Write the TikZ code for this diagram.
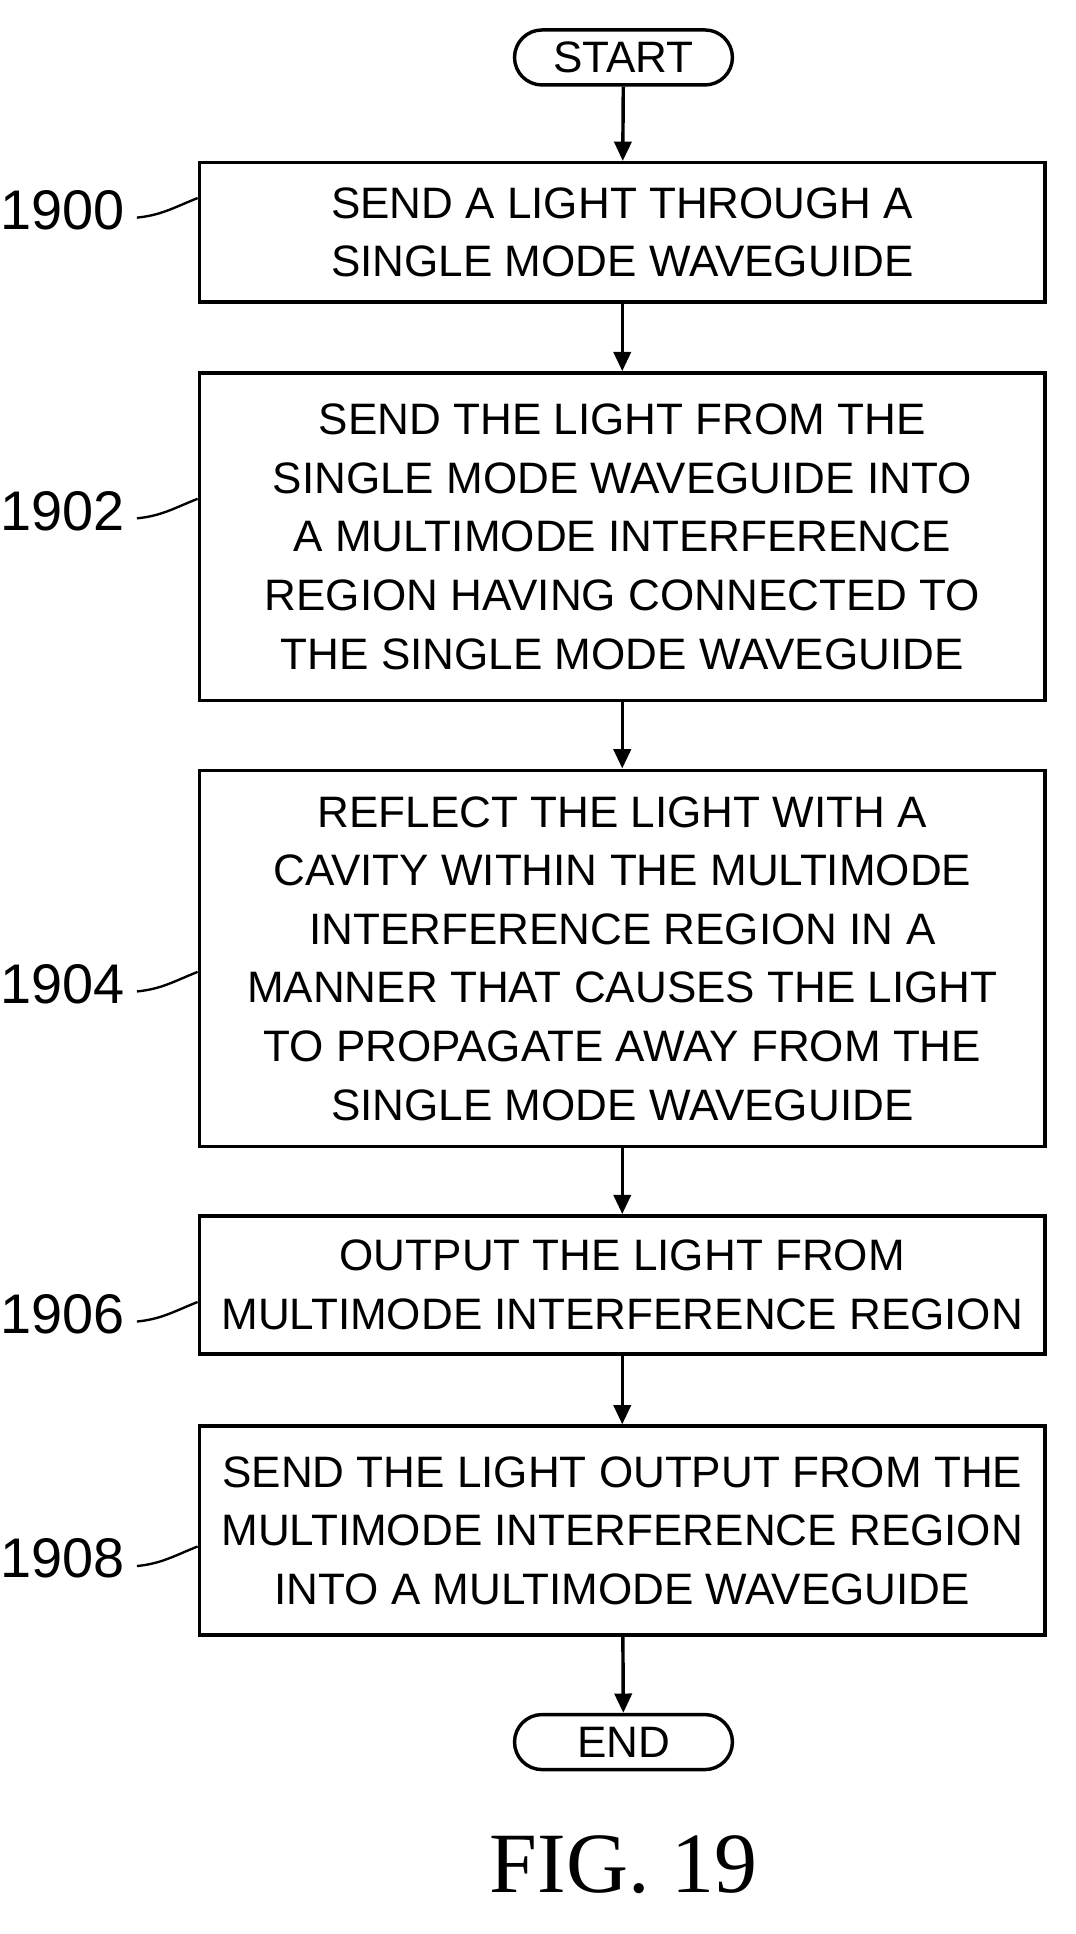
\documentclass[tikz,border=0pt]{standalone}
\usepackage{fontspec}
\setmainfont{Liberation Sans}
\newfontfamily\figfont{Liberation Serif}
\usetikzlibrary{arrows.meta,shapes.misc}
\begin{document}
\begin{tikzpicture}[x={(0.02cm,0)},y={(0,-0.02cm)},
    stepbox/.style={draw,line width=1.6pt,minimum width=13.84cm,align=center,
        font=\fontsize{20.5}{27.3}\selectfont,inner sep=0pt},
    term/.style={draw,line width=1.6pt,rounded rectangle,minimum width=3.8cm,
        minimum height=0.9cm,font=\fontsize{20.5}{24}\selectfont},
    flow/.style={line width=1.6pt,-{Triangle[length=9pt,width=8pt]}},
    tag/.style={font=\fontsize{26}{30}\selectfont,anchor=east},
    lead/.style={line width=1.1pt}]
    \useasboundingbox (0,0) rectangle (880,1582);
    % Terminals
    \node[term] (start) at (510,47) {START};
    \node[term] (end) at (510,1425) {END};
    % Steps
    \node[stepbox,minimum height=2.28cm] (s1900) at (509,190)
        {SEND A LIGHT THROUGH A\\SINGLE MODE WAVEGUIDE};
    \node[stepbox,minimum height=5.36cm] (s1902) at (509,439)
        {SEND THE LIGHT FROM THE\\SINGLE MODE WAVEGUIDE INTO\\A MULTIMODE INTERFERENCE\\REGION HAVING CONNECTED TO\\THE SINGLE MODE WAVEGUIDE};
    \node[stepbox,minimum height=6.16cm] (s1904) at (509,784)
        {REFLECT THE LIGHT WITH A\\CAVITY WITHIN THE MULTIMODE\\INTERFERENCE REGION IN A\\MANNER THAT CAUSES THE LIGHT\\TO PROPAGATE AWAY FROM THE\\SINGLE MODE WAVEGUIDE};
    \node[stepbox,minimum height=2.26cm] (s1906) at (509,1051)
        {OUTPUT THE LIGHT FROM\\MULTIMODE INTERFERENCE REGION};
    \node[stepbox,minimum height=3.42cm] (s1908) at (509,1252)
        {SEND THE LIGHT OUTPUT FROM THE\\MULTIMODE INTERFERENCE REGION\\INTO A MULTIMODE WAVEGUIDE};
    % Flow
    \draw[flow] (start) -- (s1900);
    \draw[flow] (s1900) -- (s1902);
    \draw[flow] (s1902) -- (s1904);
    \draw[flow] (s1904) -- (s1906);
    \draw[flow] (s1906) -- (s1908);
    \draw[flow] (s1908) -- (end);
    % Reference numbers
    \foreach \n/\y in {1900/172,1902/418,1904/805,1906/1075,1908/1275} {
        \node[tag] (l\n) at (108,\y) {\n};
        \draw[lead] (l\n.east) ++(4,6) coordinate (a\n)
            .. controls +(20,-2) and +(-20,8) .. (s\n.west |- 0,\y-10);
    }
    % Caption
    \node[font=\figfont\fontsize{40}{44}\selectfont] (fig) at (510,1525) {FIG. 19};
\end{tikzpicture}
\end{document}
